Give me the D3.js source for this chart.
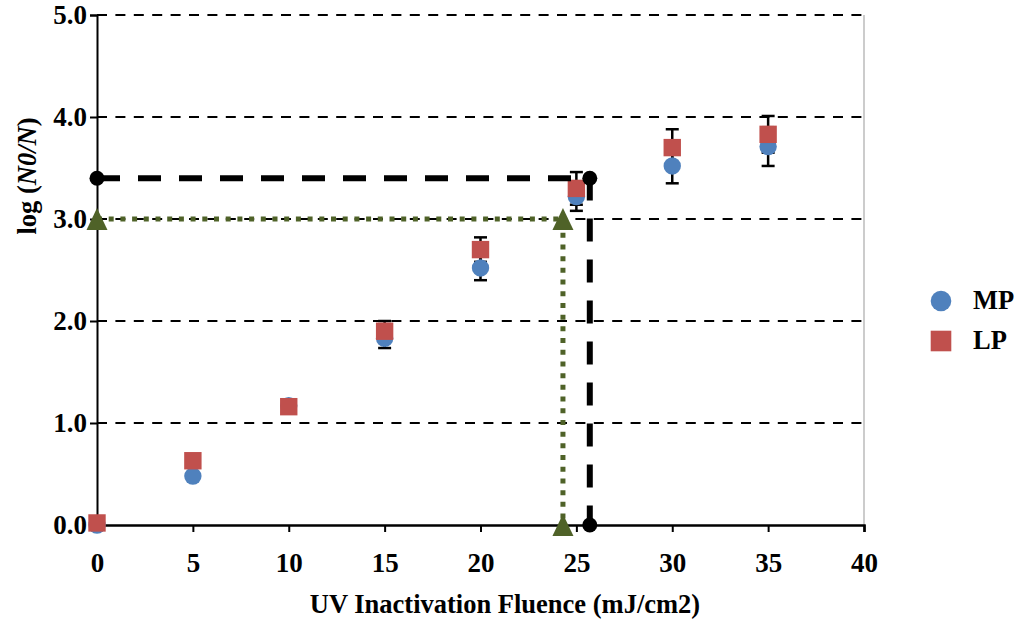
<!DOCTYPE html>
<html><head><meta charset="utf-8">
<script src="https://cdn.jsdelivr.net/npm/d3@7"></script>
<style>body{margin:0;background:#fff}svg{display:block}text{font-family:"Liberation Serif","Times New Roman",serif;font-weight:bold}</style>
</head><body>
<svg id="c" width="1020" height="622"></svg>
<script>
const fluence = [0, 5, 10, 15, 20, 25, 30, 35];
const mpValues = [0.00, 0.48, 1.17, 1.83, 2.52, 3.22, 3.52, 3.71];
const lpValues = [0.02, 0.63, 1.16, 1.90, 2.70, 3.30, 3.70, 3.83];
const mpErr = [0, 0, 0, 0.095, 0.12, 0.14, 0.17, 0.19];
const lpErr = [0, 0, 0, 0.10, 0.12, 0.16, 0.18, 0.18];
const xTicks = [0, 5, 10, 15, 20, 25, 30, 35, 40];
const yTicks = [0, 1, 2, 3, 4, 5];
const blackRef = {x: 25.7, y: 3.4};
const greenRef = {x: 24.3, y: 3.0};
const seriesNames = ["MP", "LP"];

const svg = d3.select("#c");
const L = 97, R = 864, T = 15, B = 525;
const x = d3.scaleLinear().domain([0, 40]).range([L, R]);
const y = d3.scaleLinear().domain([0, 5]).range([B, T]);

// gridlines
svg.append("g").selectAll("line").data(yTicks.filter(d => d > 0)).join("line")
  .attr("x1", L).attr("x2", R).attr("y1", d => y(d)).attr("y2", d => y(d))
  .attr("stroke", "#000").attr("stroke-width", 1.8).attr("stroke-dasharray", "10,8.4");

// right border
svg.append("line").attr("x1", R).attr("x2", R).attr("y1", T).attr("y2", B)
  .attr("stroke", "#999").attr("stroke-width", 1);

// axes
const xAxis = d3.axisBottom(x).tickValues(xTicks).tickSize(7).tickPadding(21).tickFormat(d3.format("d"));
const gx = svg.append("g").attr("transform", `translate(0,${B})`).call(xAxis);
gx.select(".domain").attr("stroke-width", 2.5);
gx.selectAll(".tick line").attr("stroke-width", 2);
gx.selectAll("text").attr("font-size", 27).attr("fill", "#000")
  .style("font-family", "'Liberation Serif', serif").style("font-weight", "bold");

const yAxis = d3.axisLeft(y).tickValues(yTicks).tickSize(7).tickPadding(3).tickFormat(d3.format(".1f"));
const gy = svg.append("g").attr("transform", `translate(${L},0)`).call(yAxis);
gy.select(".domain").attr("stroke-width", 2);
gy.selectAll(".tick line").attr("stroke-width", 2);
gy.selectAll("text").attr("font-size", 27).attr("fill", "#000")
  .style("font-family", "'Liberation Serif', serif").style("font-weight", "bold");
gx.select(".domain").raise();

// error bars
function errBars(vals, errs) {
  const g = svg.append("g").attr("stroke", "#000").attr("stroke-width", 2.5);
  fluence.forEach((f, i) => {
    if (!errs[i]) return;
    const cx = x(f), y1 = y(vals[i] - errs[i]), y2 = y(vals[i] + errs[i]);
    g.append("line").attr("x1", cx).attr("x2", cx).attr("y1", y1).attr("y2", y2);
    g.append("line").attr("x1", cx - 6.5).attr("x2", cx + 6.5).attr("y1", y1).attr("y2", y1);
    g.append("line").attr("x1", cx - 6.5).attr("x2", cx + 6.5).attr("y1", y2).attr("y2", y2);
  });
}
errBars(mpValues, mpErr);
errBars(lpValues, lpErr);

// markers
svg.append("g").selectAll("circle").data(fluence).join("circle")
  .attr("cx", d => x(d)).attr("cy", (d, i) => y(mpValues[i])).attr("r", 8.7)
  .attr("fill", "#4F81BD");
svg.append("g").selectAll("rect").data(fluence).join("rect")
  .attr("x", d => x(d) - 8.7).attr("y", (d, i) => y(lpValues[i]) - 8.7)
  .attr("width", 17.4).attr("height", 17.4).attr("fill", "#C0504D");

// green dotted reference
const green = "#4F6228";
svg.append("path")
  .attr("d", d3.line()([[x(0), y(greenRef.y)], [x(greenRef.x), y(greenRef.y)], [x(greenRef.x), y(0)]]))
  .attr("fill", "none").attr("stroke", green).attr("stroke-width", 5).attr("stroke-dasharray", "5,6.7");
const tri = (cx, cy) => `M${cx},${cy - 11}L${cx + 10.5},${cy + 11}L${cx - 10.5},${cy + 11}Z`;
[[0, greenRef.y], [greenRef.x, greenRef.y], [greenRef.x, 0]].forEach(p => {
  svg.append("path").attr("d", tri(x(p[0]), y(p[1]))).attr("fill", green);
});

// black dashed reference
svg.append("path")
  .attr("d", d3.line()([[x(0), y(blackRef.y)], [x(blackRef.x), y(blackRef.y)], [x(blackRef.x), y(0)]]))
  .attr("fill", "none").attr("stroke", "#000").attr("stroke-width", 6).attr("stroke-dasharray", "23,18");
[[0, blackRef.y], [blackRef.x, blackRef.y], [blackRef.x, 0]].forEach(p => {
  svg.append("circle").attr("cx", x(p[0])).attr("cy", y(p[1])).attr("r", 7.5).attr("fill", "#000");
});

// axis titles
svg.append("text").attr("x", 505).attr("y", 613).attr("text-anchor", "middle")
  .attr("font-size", 26.5).text("UV Inactivation Fluence (mJ/cm2)");
const yt = svg.append("text").attr("transform", "translate(36,176) rotate(-90)")
  .attr("text-anchor", "middle").attr("font-size", 26.5);
yt.append("tspan").text("log (");
yt.append("tspan").attr("font-style", "italic").text("N0/N");
yt.append("tspan").text(")");

// legend
const lg = svg.append("g");
lg.append("circle").attr("cx", 941).attr("cy", 301).attr("r", 10.3).attr("fill", "#4F81BD");
lg.append("rect").attr("x", 930.7).attr("y", 330.7).attr("width", 20.6).attr("height", 20.6).attr("fill", "#C0504D");
lg.selectAll("text.lg").data(seriesNames).join("text").attr("class", "lg")
  .attr("x", 973).attr("y", (d, i) => 309 + i * 40).attr("font-size", 26.5).text(d => d);
</script>
</body></html>
